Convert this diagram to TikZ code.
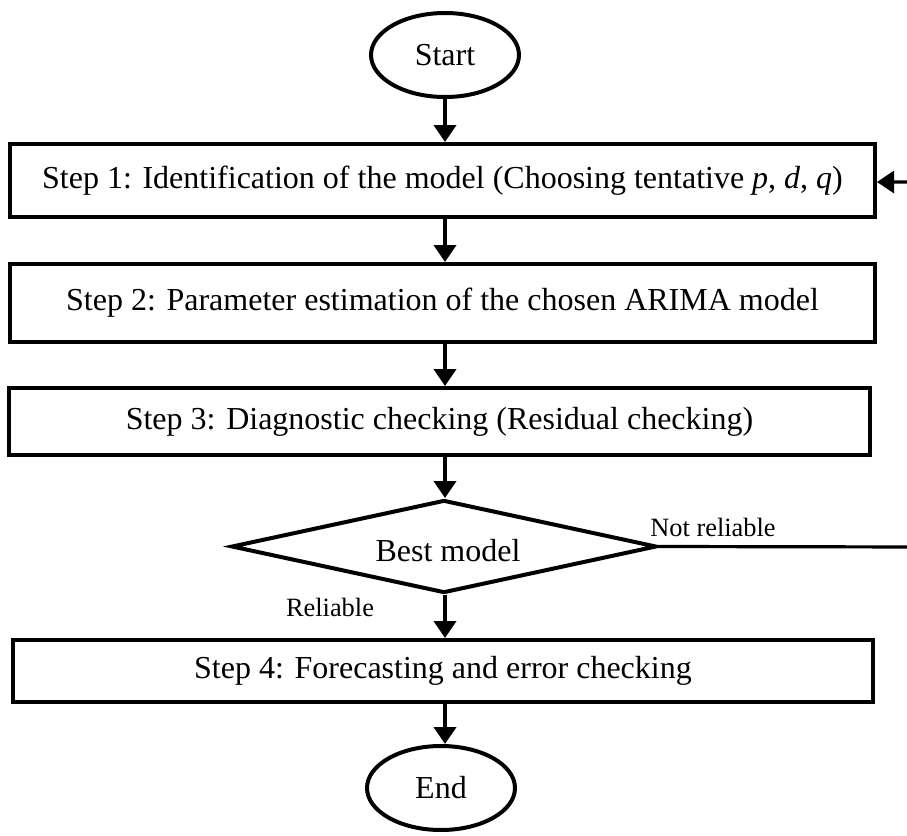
\documentclass[tikz,border=0pt]{standalone}
\usepackage{fontspec}
\setmainfont{Liberation Serif}
\usetikzlibrary{arrows.meta,shapes.geometric}
\begin{document}
\begin{tikzpicture}[x=0.5pt,y=-0.5pt,
  line width=2pt,
  every node/.style={font=\fontsize{16}{19}\selectfont},
  box/.style={draw, rectangle, inner sep=0pt},
  term/.style={draw, ellipse, inner sep=0pt, minimum width=74pt, minimum height=42pt},
  lbl/.style={font=\fontsize{13.2}{15}\selectfont, inner sep=0pt},
  arr/.style={-{Triangle[length=8.5pt,width=11pt]}}
]
\useasboundingbox (0,0) rectangle (907,836);
\node[term] (start) at (445,55) {Start};
\node[box, minimum width=432.5pt, minimum height=36.5pt] (s1) at (442.5,180.5) {Step 1: Identification of the model (Choosing tentative \textit{p}, \textit{d}, \textit{q})};
\node[box, minimum width=432.5pt, minimum height=39pt] (s2) at (442.5,303) {Step 2: Parameter estimation of the chosen ARIMA model};
\node[box, minimum width=430.5pt, minimum height=33.5pt] (s3) at (439.5,421.5) {Step 3: Diagnostic checking (Residual checking)};
\node[draw, diamond, inner sep=0pt, minimum width=212.5pt, minimum height=46.5pt] (dec) at (444,546.5) {};
\node (bm) at (448,551) {Best model};
\node[box, minimum width=430pt, minimum height=31pt] (s4) at (443,671) {Step 4: Forecasting and error checking};
\node[term] (end) at (441,788) {End};
\coordinate (c1) at (930,547);
\coordinate (c2) at (930,182);
\coordinate (ax) at (445,0);
\node[lbl] (nr) at (713,527) {Not reliable};
\node[lbl] (rl) at (330,607) {Reliable};
\draw[arr] (start.south) -- (start.south |- s1.north);
\draw[arr] (s1.south -| ax) -- (s2.north -| ax);
\draw[arr] (s2.south -| ax) -- (s3.north -| ax);
\draw[arr] (s3.south -| ax) -- (dec.north -| ax);
\draw[arr] (dec.south -| ax) -- (s4.north -| ax);
\draw[arr] (s4.south -| ax) -- (end.north -| ax);
\draw[arr, line width=1.6pt] (dec.east) -- (c1) -- (c2) -- (s1.east |- c2);
\end{tikzpicture}
\end{document}
